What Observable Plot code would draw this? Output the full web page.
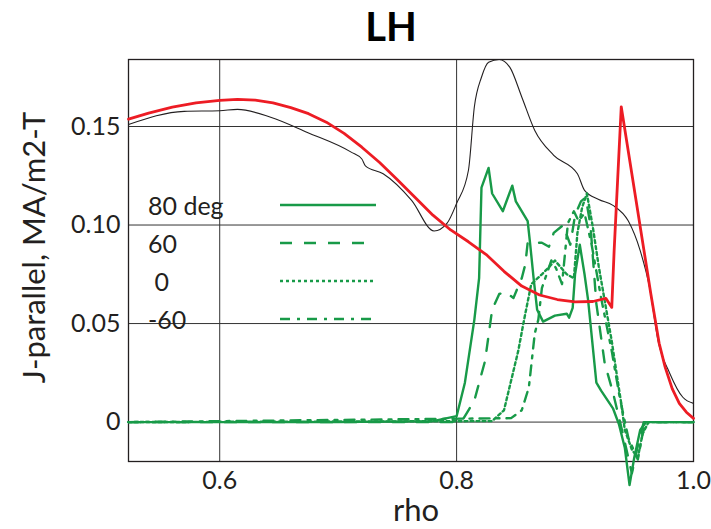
<!DOCTYPE html>
<html>
<head>
<meta charset="utf-8">
<script src="https://cdn.jsdelivr.net/npm/d3@7"></script>
<script src="https://cdn.jsdelivr.net/npm/@observablehq/plot@0.6"></script>
<style>
  html, body { margin: 0; padding: 0; background: #fff; }
  #wrap { position: relative; width: 711px; height: 529px; font-family: Lato, "Open Sans", sans-serif; }
  #legend { position: absolute; left: 148px; top: 186px; }
  .item { display: flex; align-items: center; height: 38px; }
  .item span { width: 130px; font-size: 25px; color: #231f20; }
  .item svg { display: block; }
</style>
</head>
<body>
<div id="wrap"></div>
<script>
// ---- data ----
const xTicks = [0.6, 0.8, 1.0];
const yTicks = [0, 0.05, 0.10, 0.15];

// red curve: [rho, J]
const redRho = [0.523,0.540,0.560,0.580,0.600,0.615,0.630,0.645,0.660,0.675,0.690,0.705,0.720,0.735,0.750,0.765,0.780,0.795,0.810,0.825,0.840,0.855,0.870,0.885,0.900,0.915,0.926,0.931,0.933,0.939,0.964,0.971,0.976,0.982,0.988,0.994,1.000];
const redJ   = [0.1537,0.1568,0.1598,0.1620,0.1633,0.1638,0.1634,0.1620,0.1596,0.1565,0.1522,0.1465,0.1395,0.1317,0.1230,0.1140,0.1050,0.0975,0.0915,0.0850,0.0765,0.0690,0.0645,0.0622,0.0610,0.0612,0.0628,0.0582,0.0870,0.1600,0.0650,0.0400,0.0280,0.0170,0.0095,0.0050,0.0019];

// black curve
const blackRho = [0.523,0.570,0.600,0.615,0.643,0.674,0.711,0.720,0.723,0.738,0.762,0.781,0.792,0.800,0.810,0.815,0.821,0.827,0.836,0.845,0.855,0.866,0.882,0.902,0.908,0.920,0.932,0.945,0.955,0.963,0.970,0.980,0.991,1.000];
const blackJ   = [0.151,0.1577,0.158,0.1587,0.1547,0.147,0.137,0.1335,0.130,0.126,0.1125,0.097,0.101,0.111,0.1278,0.160,0.175,0.1826,0.184,0.180,0.165,0.148,0.1354,0.126,0.1176,0.113,0.110,0.102,0.087,0.068,0.0415,0.0247,0.0126,0.0095];

// green series, one per launch angle
const labels = ["80 deg", "60", " 0", "-60"];
const g80Rho = [0.523,0.700,0.780,0.800,0.807,0.815,0.819,0.821,0.827,0.830,0.839,0.847,0.850,0.860,0.862,0.865,0.868,0.873,0.883,0.893,0.895,0.898,0.900,0.904,0.908,0.911,0.918,0.922,0.932,0.937,0.942,0.946,0.950,0.955,0.960,1.000];
const g80J   = [0,0,0.0005,0.003,0.020,0.052,0.073,0.119,0.129,0.116,0.107,0.120,0.112,0.102,0.091,0.073,0.057,0.051,0.054,0.055,0.053,0.058,0.075,0.090,0.075,0.062,0.020,0.016,0.007,-0.001,-0.013,-0.032,-0.018,-0.004,0,0];
const g60Rho = [0.523,0.800,0.806,0.815,0.824,0.830,0.836,0.841,0.848,0.855,0.858,0.860,0.866,0.872,0.878,0.882,0.890,0.896,0.900,0.905,0.909,0.913,0.918,0.925,0.932,0.940,0.948,0.953,0.958,1.000];
const g60J   = [0,0,0.002,0.011,0.031,0.057,0.065,0.066,0.063,0.073,0.080,0.091,0.091,0.091,0.089,0.096,0.100,0.090,0.105,0.112,0.114,0.100,0.060,0.030,0.015,-0.005,-0.026,-0.012,0,0];
const g0Rho  = [0.523,0.830,0.840,0.844,0.852,0.857,0.863,0.872,0.877,0.883,0.893,0.899,0.902,0.906,0.910,0.915,0.920,0.931,0.936,0.939,0.942,0.948,0.953,0.957,0.962,1.000];
const g0J    = [0,0.0005,0.006,0.016,0.036,0.052,0.070,0.075,0.078,0.082,0.075,0.073,0.096,0.109,0.116,0.099,0.079,0.041,0.021,0.0095,-0.004,-0.014,-0.018,-0.006,0,0];
const gm60Rho= [0.523,0.846,0.855,0.861,0.866,0.869,0.872,0.876,0.880,0.884,0.889,0.894,0.899,0.903,0.908,0.914,0.922,0.931,0.937,0.940,0.945,0.953,0.957,0.960,1.000];
const gm60J  = [0,0.002,0.006,0.0176,0.045,0.052,0.068,0.075,0.082,0.078,0.070,0.101,0.107,0.102,0.106,0.090,0.063,0.036,0.015,0.006,-0.008,-0.019,-0.006,0,0];

// ---- build tables ----
const red = redRho.map((r, i) => ({rho: r, j: redJ[i]}));
const black = blackRho.map((r, i) => ({rho: r, j: blackJ[i]}));
const greens = [
  {label: labels[0], rho: g80Rho, j: g80J},
  {label: labels[1], rho: g60Rho, j: g60J},
  {label: labels[2], rho: g0Rho, j: g0J},
  {label: labels[3], rho: gm60Rho, j: gm60J}
];
const GREEN = "#189a48";
const dashes = ["none", "12,12", "3,3", "10,7,3,7"];

const fmtY = d => d === 0 ? "0" : d.toFixed(2);
const fmtX = d => d.toFixed(1);

const greenMarks = greens.map((g, k) =>
  Plot.line(g.rho.map((r, i) => ({rho: r, j: g.j[i]})), {
    x: "rho", y: "j", stroke: GREEN, strokeWidth: 2.4,
    strokeDasharray: dashes[k], strokeLinejoin: "round"
  })
);

const chart = Plot.plot({
  width: 711,
  height: 529,
  marginLeft: 128,
  marginRight: 18,
  marginTop: 59,
  marginBottom: 68,
  style: {fontFamily: "Lato, 'Open Sans', sans-serif", color: "#231f20", background: "#fff"},
  x: {domain: [0.523, 1.0]},
  y: {domain: [-0.02, 0.184]},
  marks: [
    Plot.gridX(xTicks, {stroke: "#333", strokeOpacity: 1, strokeWidth: 1}),
    Plot.gridY(yTicks, {stroke: "#333", strokeOpacity: 1, strokeWidth: 1}),
    Plot.axisX(xTicks, {tickSize: 0, tickPadding: 10, fontSize: 25, tickFormat: fmtX, label: null}),
    Plot.axisY(yTicks, {tickSize: 0, tickPadding: 8, fontSize: 25, tickFormat: fmtY, label: null}),
    Plot.frame({stroke: "#231f20", strokeWidth: 1.3}),
    Plot.line(black, {x: "rho", y: "j", stroke: "#231f20", strokeWidth: 1.1, curve: "monotone-x"}),
    ...greenMarks,
    Plot.line(red, {x: "rho", y: "j", stroke: "#ed1c24", strokeWidth: 2.8, strokeLinejoin: "round"}),
    Plot.text(["LH"], {frameAnchor: "top", lineAnchor: "middle", dy: -31, dx: -20, fontSize: 40, fontWeight: "bold", fill: "#000"}),
    Plot.text(["rho"], {frameAnchor: "bottom", lineAnchor: "middle", dy: 50, dx: 5, fontSize: 31, fill: "#231f20"}),
    Plot.text(["J-parallel, MA/m2-T"], {frameAnchor: "left", textAnchor: "middle", lineAnchor: "middle", rotate: -90, dx: -93, dy: -13, fontSize: 31, fill: "#231f20"})
  ]
});

const wrap = document.getElementById("wrap");
wrap.appendChild(chart);

// legend overlay
const legend = document.createElement("div");
legend.id = "legend";
greens.forEach((g, k) => {
  const item = document.createElement("div");
  item.className = "item";
  const s = document.createElement("span");
  s.textContent = g.label;
  s.style.whiteSpace = "pre";
  item.appendChild(s);
  const svg = d3.create("svg").attr("width", 100).attr("height", 10);
  svg.append("line").attr("x1", 2).attr("x2", 98).attr("y1", 5).attr("y2", 5)
    .attr("stroke", GREEN).attr("stroke-width", 2.4)
    .attr("stroke-dasharray", dashes[k] === "none" ? null : dashes[k]);
  item.appendChild(svg.node());
  legend.appendChild(item);
});
wrap.appendChild(legend);
</script>
</body>
</html>
